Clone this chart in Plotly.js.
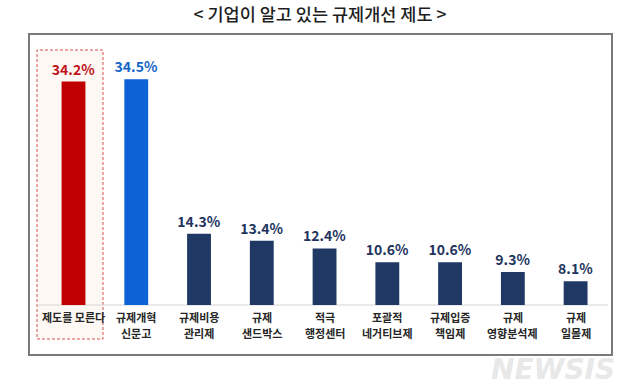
<!DOCTYPE html>
<html>
<head>
<meta charset="utf-8">
<script src="https://cdn.plot.ly/plotly-3.0.1.min.js"></script>
<style>html,body{margin:0;padding:0;background:#fff;}#chart{width:640px;height:390px;}</style>
</head>
<body>
<div id="chart"></div>
<script>
// ---- data ----
var categories = ["제도를 모른다", "규제개혁<br>신문고", "규제비용<br>관리제", "규제<br>샌드박스", "적극<br>행정센터", "포괄적<br>네거티브제", "규제입증<br>책임제", "규제<br>영향분석제", "규제<br>일몰제"];
var values = [34.2, 34.5, 14.3, 13.4, 12.4, 10.6, 10.6, 9.3, 8.1];
var valueLabels = ["34.2%", "34.5%", "14.3%", "13.4%", "12.4%", "10.6%", "10.6%", "9.3%", "8.1%"];
var titleText = "< 기업이 알고 있는 규제개선 제도 >";

// ---- styles ----
var RED = "#c00000", BLUE = "#0b63d6", NAVY = "#1f3864";
var barColors = values.map(function(v, i){ return i === 0 ? RED : (i === 1 ? BLUE : NAVY); });
var textColors = values.map(function(v, i){ return i === 0 ? "#c0141c" : (i === 1 ? "#1565c8" : "#22335e"); });

var W = 640, H = 390;
var M = {l: 40, r: 33, t: 40, b: 85};
var pw = W - M.l - M.r, ph = H - M.t - M.b;
function px2x(px){ return (px - M.l) / pw; }
function px2y(py){ return (H - M.b - py) / ph; }

var FONT = "'Noto Sans CJK KR', 'Noto Sans', sans-serif";

var trace = {
  type: "bar",
  x: categories,
  y: values,
  base: 0,
  width: 0.38,
  marker: {color: barColors},
  text: valueLabels,
  textposition: "outside",
  constraintext: "none",
  textfont: {family: FONT, size: 14, color: textColors, weight: 600},
  cliponaxis: false,
  hoverinfo: "skip"
};

// category labels: one annotation per line so the line spacing matches
var labelAnns = [];
categories.forEach(function(c){
  var lines = c.split("<br>");
  lines.forEach(function(line, j){
    labelAnns.push({
      text: line, xref: "x", yref: "paper", x: c, y: px2y(317 + 16 * j),
      xanchor: "center", yanchor: "middle", showarrow: false,
      font: {family: FONT, size: 11, color: "#262626", weight: 700}
    });
  });
});

var layout = {
  width: W, height: H,
  margin: M,
  paper_bgcolor: "#ffffff",
  plot_bgcolor: "rgba(0,0,0,0)",
  showlegend: false,
  title: {
    text: titleText,
    x: 0.5, xref: "container", xanchor: "center",
    y: 1 - 15/H, yref: "container", yanchor: "middle",
    font: {family: FONT, size: 17.5, color: "#1e1e1e", weight: 500}
  },
  xaxis: {
    type: "category",
    showgrid: false, zeroline: false, showline: false,
    ticks: "", showticklabels: false,
    fixedrange: true
  },
  yaxis: {
    range: [5, 5 + ph / 7.65],
    visible: false,
    fixedrange: true
  },
  shapes: [
    // outer frame
    {type: "rect", xref: "paper", yref: "paper", layer: "below",
     x0: px2x(29), x1: px2x(612), y0: px2y(355), y1: px2y(34),
     line: {color: "#7a7a7a", width: 2}, fillcolor: "rgba(0,0,0,0)"},
    // highlight box around first category
    {type: "rect", xref: "paper", yref: "paper", layer: "below",
     x0: px2x(37), x1: px2x(103), y0: px2y(339), y1: px2y(50),
     line: {color: "#d9534f", width: 1, dash: "3px,2px"}, fillcolor: "#fdf8f3"},
    // baseline
    {type: "line", xref: "paper", yref: "paper", layer: "below",
     x0: px2x(37), x1: px2x(608), y0: 0, y1: 0,
     line: {color: "#d4d4d4", width: 1}}
  ],
  annotations: labelAnns.concat([
    {text: "<i><b>NEWSIS</b></i>", xref: "paper", yref: "paper",
     x: px2x(553), y: px2y(369), xanchor: "center", yanchor: "middle",
     showarrow: false,
     font: {family: "'DejaVu Sans', sans-serif", size: 28, color: "#e8e8e8"}}
  ])
};

Plotly.newPlot("chart", [trace], layout, {displayModeBar: false, staticPlot: true});
</script>
</body>
</html>
